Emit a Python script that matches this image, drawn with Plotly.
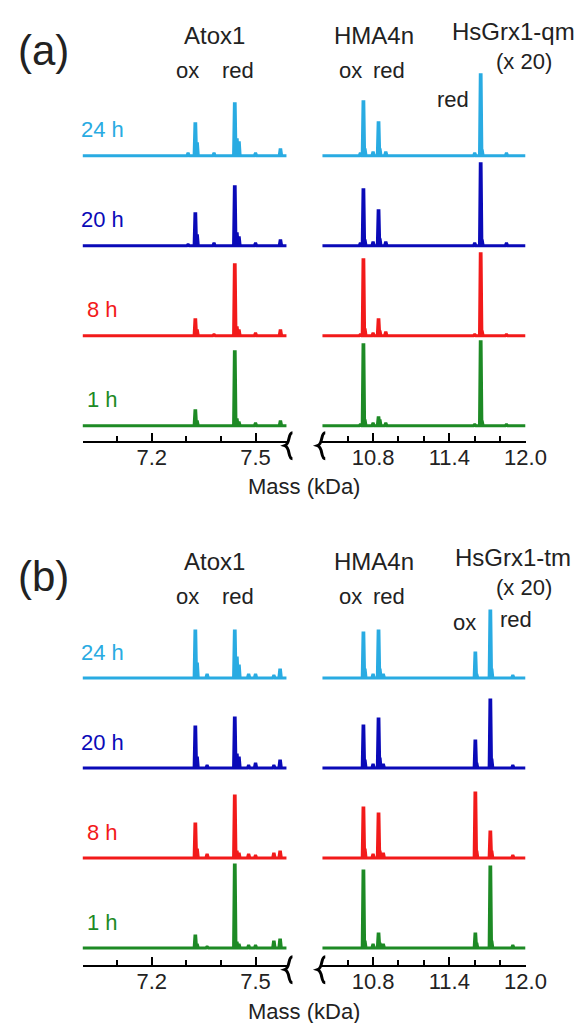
import plotly.graph_objects as go

W, H = 588, 1023
FONT = "Liberation Sans, Arial, sans-serif"
FS = 22        # labels, tick labels
FT = 24        # protein titles
SHIFT = -4     # global vertical nudge (px)

# ---------------- data ----------------
times = ["24 h", "20 h", "8 h", "1 h"]
colors = ["#29abe2", "#0a0ab8", "#f21a1a", "#1d8a25"]
offsets = [270, 180, 90, 0]          # vertical stacking of the spectra

left_range = [7.0, 7.59]
right_range = [10.4, 12.0]
left_major = [7.2, 7.5]
left_minor = [7.0, 7.1, 7.3, 7.4]
right_major = [10.8, 11.4, 12.0]
right_minor = [10.6, 11.0, 11.2, 11.6, 11.8]

# panel (a) Atox1 region
a_left_mass = [7.305, 7.326, 7.331, 7.380, 7.440, 7.446, 7.452, 7.500, 7.572]
a_left_24h = [2, 32, 12, 2, 52, 16, 13, 2, 6]
a_left_20h = [1, 32, 10, 2, 59, 12, 8, 2, 5]
a_left_8h = [0, 16, 5, 1, 71, 8, 5, 2, 5]
a_left_1h = [0, 15, 4, 0, 74, 6, 3, 2, 4]

# panel (a) HMA4n / HsGrx1-qm region
a_right_mass = [10.70, 10.724, 10.735, 10.80, 10.843, 10.853, 10.90, 11.60, 11.647, 11.657, 11.85]
a_right_24h = [2, 54, 6, 3, 33, 6, 3, 2, 81, 5, 2]
a_right_20h = [2, 56, 5, 3, 35, 6, 3, 2, 82, 5, 2]
a_right_8h = [1, 76, 6, 2, 16, 4, 3, 1, 82, 4, 1]
a_right_1h = [1, 81, 5, 2, 8, 5, 2, 1, 84, 4, 1]

# panel (b) Atox1 region
b_left_mass = [7.326, 7.331, 7.360, 7.440, 7.446, 7.452, 7.480, 7.500, 7.553, 7.571]
b_left_24h = [47, 14, 3, 47, 20, 12, 3, 3, 2, 8]
b_left_20h = [41, 10, 2, 50, 13, 10, 2, 4, 2, 7]
b_left_8h = [34, 8, 3, 62, 6, 4, 3, 2, 4, 6]
b_left_1h = [12, 3, 1, 83, 5, 3, 2, 2, 6, 8]

# panel (b) HMA4n / HsGrx1-tm region
b_right_mass = [10.724, 10.735, 10.80, 10.843, 10.853, 10.88, 11.605, 11.615, 11.723, 11.733, 11.90]
b_right_24h = [45, 8, 3, 47, 8, 3, 25, 3, 67, 8, 2]
b_right_20h = [42, 7, 3, 49, 9, 3, 27, 4, 68, 8, 2]
b_right_8h = [50, 8, 3, 44, 6, 4, 65, 6, 26, 6, 2]
b_right_1h = [77, 6, 3, 14, 4, 3, 14, 4, 81, 6, 2]

# ---------------- helpers ----------------
def pxx(p):
    return p / W


def pxy(p):
    return 1 - (p + SHIFT) / H


def spectrum(masses, heights, half_width, xr, offset):
    xs, ys = [xr[0]], [offset]
    for m, h in sorted(zip(masses, heights)):
        if h <= 0:
            continue
        xs += [m - half_width, m - half_width / 3, m + half_width / 3, m + half_width]
        ys += [offset, offset + h, offset + h, offset]
    xs.append(xr[1])
    ys.append(offset)
    return xs, ys


fig = go.Figure()

panels = [
    dict(xl="x", xr="x2", y="y",
         left=[a_left_24h, a_left_20h, a_left_8h, a_left_1h], lmass=a_left_mass,
         right=[a_right_24h, a_right_20h, a_right_8h, a_right_1h], rmass=a_right_mass),
    dict(xl="x3", xr="x4", y="y2",
         left=[b_left_24h, b_left_20h, b_left_8h, b_left_1h], lmass=b_left_mass,
         right=[b_right_24h, b_right_20h, b_right_8h, b_right_1h], rmass=b_right_mass),
]

annotations = []
for p in panels:
    for i in range(4):
        lx, ly = spectrum(p["lmass"], p["left"][i], 0.0035, left_range, offsets[i])
        rx, ry = spectrum(p["rmass"], p["right"][i], 0.0095, right_range, offsets[i])
        fig.add_trace(go.Scatter(x=lx, y=ly, xaxis=p["xl"], yaxis=p["y"], mode="lines",
                                 line=dict(color=colors[i], width=3), showlegend=False,
                                 hoverinfo="skip"))
        fig.add_trace(go.Scatter(x=rx, y=ry, xaxis=p["xr"], yaxis=p["y"], mode="lines",
                                 line=dict(color=colors[i], width=3), showlegend=False,
                                 hoverinfo="skip"))
        annotations.append(dict(text=times[i], xref=p["xl"], yref=p["y"], x=7.058,
                                y=offsets[i] + 26, showarrow=False, xanchor="center",
                                yanchor="middle", font=dict(size=FS, color=colors[i])))

# ---------------- axes ----------------
def xaxis(domain, rng, major, minor, anchor):
    return dict(domain=domain, range=rng, anchor=anchor, showline=True, linecolor="black",
                linewidth=2, ticks="inside", ticklen=8, tickwidth=2, tickcolor="black",
                tickmode="array", tickvals=major, ticktext=[f"{v:.1f}" for v in major],
                tickfont=dict(size=FS, color="#222", family=FONT), showgrid=False,
                zeroline=False, fixedrange=True,
                minor=dict(ticks="inside", ticklen=5, tickwidth=2, tickcolor="black",
                           tickmode="array", tickvals=minor, showgrid=False))


left_dom = [pxx(77.3), pxx(289.0)]
right_dom = [pxx(325.9), pxx(536.7)]

a_axis_px, b_axis_px = 436.7, 960.7
a_top_px, b_top_px = 60.0, 585.0

axes = dict(
    xaxis=xaxis(left_dom, left_range, left_major, left_minor, "y"),
    xaxis2=xaxis(right_dom, right_range, right_major, right_minor, "y"),
    xaxis3=xaxis(left_dom, left_range, left_major, left_minor, "y2"),
    xaxis4=xaxis(right_dom, right_range, right_major, right_minor, "y2"),
)

fig.update_layout(
    width=W, height=H, margin=dict(l=0, r=0, t=0, b=0),
    paper_bgcolor="white", plot_bgcolor="white",
    font=dict(family=FONT, size=FS, color="#222"),
    yaxis=dict(domain=[pxy(a_axis_px), pxy(a_top_px)],
               range=[-15.0, a_axis_px - a_top_px - 15.0], visible=False, anchor="x",
               fixedrange=True),
    yaxis2=dict(domain=[pxy(b_axis_px), pxy(b_top_px)],
                range=[-16.7, b_axis_px - b_top_px - 16.7], visible=False, anchor="x3",
                fixedrange=True),
    **axes,
)
# pull the tick labels slightly closer to the axis line
try:
    fig.update_xaxes(ticklabelstandoff=-4)
except Exception:
    pass

# ---------------- text labels ----------------
def label(text, x, y, size=FS, anchor="center"):
    annotations.append(dict(text=text, xref="paper", yref="paper", x=pxx(x), y=pxy(y),
                            showarrow=False, xanchor=anchor, yanchor="middle",
                            font=dict(size=size, color="#222", family=FONT)))


for dy, tag, grx in [(0, "(a)", "HsGrx1-qm"), (525, "(b)", "HsGrx1-tm")]:
    label(tag, 37, 47 + dy, size=42)
    label("Atox1", 214, 32 + dy, size=FT)
    label("HMA4n", 380, 32 + dy, size=FT)
    label(grx, 524, 28 + dy, size=FT)
    label("(x 20)", 535, 58 + dy)
    label("ox", 186, 67 + dy)
    label("red", 239, 67 + dy)
    label("ox", 355, 67 + dy)
    label("red", 395, 67 + dy)
label("red", 461, 95)
label("ox", 473, 618)
label("red", 527, 615)
label("Mass (kDa)", 307, 482)
label("Mass (kDa)", 307, 1007)

# ---------------- axis-break marks ----------------
shapes = []


def brace(cx, cy):
    pts = [(cx + 4, cy - 13), (cx - 1, cy - 13), (cx + 2, cy - 2), (cx - 4, cy),
           (cx + 2, cy + 2), (cx - 1, cy + 13), (cx + 4, cy + 13)]
    c = [(pxx(a), pxy(b)) for a, b in pts]
    path = (f"M {c[0][0]},{c[0][1]} C {c[1][0]},{c[1][1]} {c[2][0]},{c[2][1]} {c[3][0]},{c[3][1]} "
            f"C {c[4][0]},{c[4][1]} {c[5][0]},{c[5][1]} {c[6][0]},{c[6][1]}")
    shapes.append(dict(type="path", xref="paper", yref="paper", path=path,
                       line=dict(color="black", width=3)))


for base in (a_axis_px, b_axis_px):
    brace(291, base + 5)
    brace(325, base + 5)

fig.update_layout(annotations=annotations, shapes=shapes)
fig.write_html("out.html")
